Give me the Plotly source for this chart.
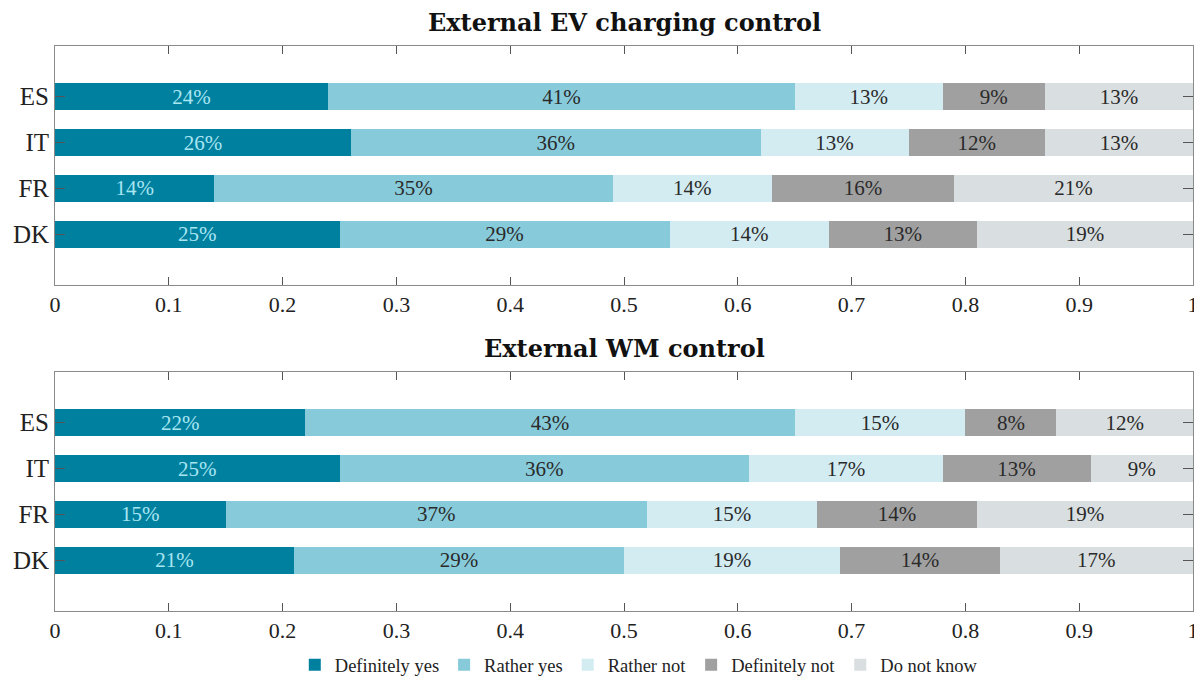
'''
    Stacked horizontal bar charts of survey answers on external control
    of EV charging and washing machines, per country.
'''
import plotly.graph_objects as go

countries = ['DK', 'FR', 'IT', 'ES']
answers = ['Definitely yes', 'Rather yes', 'Rather not', 'Definitely not', 'Do not know']

# shares in percent, one list per answer, order follows `countries`
ev_definitely_yes = [25, 14, 26, 24]
ev_rather_yes = [29, 35, 36, 41]
ev_rather_not = [14, 14, 13, 13]
ev_definitely_not = [13, 16, 12, 9]
ev_do_not_know = [19, 21, 13, 13]

wm_definitely_yes = [21, 15, 25, 22]
wm_rather_yes = [29, 37, 36, 43]
wm_rather_not = [19, 15, 17, 15]
wm_definitely_not = [14, 14, 13, 8]
wm_do_not_know = [17, 19, 9, 12]

x_ticks = [0, 0.1, 0.2, 0.3, 0.4, 0.5, 0.6, 0.7, 0.8, 0.9, 1]

COLORS = ['#00809f', '#87cbdb', '#d3ecf2', '#a0a0a0', '#d9dfe0']
TEXT_COLORS = ['#a8e6f2', '#2a2a2a', '#2a2a2a', '#2a2a2a', '#2a2a2a']
FONT = 'Liberation Serif'
TITLE_FONT = 'DejaVu Serif'

ev_series = [ev_definitely_yes, ev_rather_yes, ev_rather_not,
             ev_definitely_not, ev_do_not_know]
wm_series = [wm_definitely_yes, wm_rather_yes, wm_rather_not,
             wm_definitely_not, wm_do_not_know]

fig = go.Figure()


def add_panel(series, xaxis, yaxis, show_legend):
    '''
        Adds the five stacked traces of one panel.
    '''
    for name, values, color, text_color in zip(answers, series, COLORS, TEXT_COLORS):
        fig.add_trace(go.Bar(
            x=[v / 100 for v in values],
            y=countries,
            orientation='h',
            name=name,
            marker=dict(color=color, line=dict(width=0)),
            text=[f'{v}%' for v in values],
            textposition='inside',
            insidetextanchor='middle',
            constraintext='none',
            textfont=dict(family=FONT, size=21, color=text_color),
            width=0.59,
            xaxis=xaxis, yaxis=yaxis,
            showlegend=show_legend,
            hoverinfo='skip'
        ))


add_panel(ev_series, 'x', 'y', True)
add_panel(wm_series, 'x2', 'y2', False)

axis_common = dict(
    showline=True, linecolor='#8a8a8a', linewidth=1, mirror='ticks',
    ticks='inside', tickcolor='#555555', showgrid=False, zeroline=False,
    automargin=False, ticklabeloverflow='allow',
)

# the page body adds an 8px margin, so the figure starts 8px into the window;
# the extra height below keeps the legend from pushing the plot area up
fig.update_layout(
    width=1194, height=690,
    barmode='stack',
    plot_bgcolor='white', paper_bgcolor='white',
    margin=dict(l=47, r=9, t=38, b=87),
    font=dict(family=FONT, color='#222222'),
    xaxis=dict(axis_common, domain=[0, 1], anchor='y', range=[0, 1],
               tickvals=x_ticks, ticklen=8,
               tickfont=dict(size=22)),
    yaxis=dict(axis_common, domain=[0.577, 1], anchor='x', range=[-1.1, 4.1],
               ticklen=10, tickfont=dict(size=25)),
    xaxis2=dict(axis_common, domain=[0, 1], anchor='y2', range=[0, 1],
                tickvals=x_ticks, ticklen=8,
                tickfont=dict(size=22)),
    yaxis2=dict(axis_common, domain=[0, 0.423], anchor='x2', range=[-1.1, 4.1],
                ticklen=10, tickfont=dict(size=25)),
    legend=dict(orientation='h', x=0.513, xanchor='center', y=-0.096,
                yanchor='middle', font=dict(size=18.5, color='#222222'),
                traceorder='normal', itemsizing='constant'),
    annotations=[
        dict(text='<b>External EV charging control</b>', xref='paper', yref='paper',
             x=0.5, y=1.07, showarrow=False, yanchor='top',
             font=dict(family=TITLE_FONT, size=24, color='#111111')),
        dict(text='<b>External WM control</b>', xref='paper', yref='paper',
             x=0.5, y=0.464, showarrow=False, yanchor='middle',
             font=dict(family=TITLE_FONT, size=24, color='#111111')),
    ]
)

fig.write_html('out.html')
